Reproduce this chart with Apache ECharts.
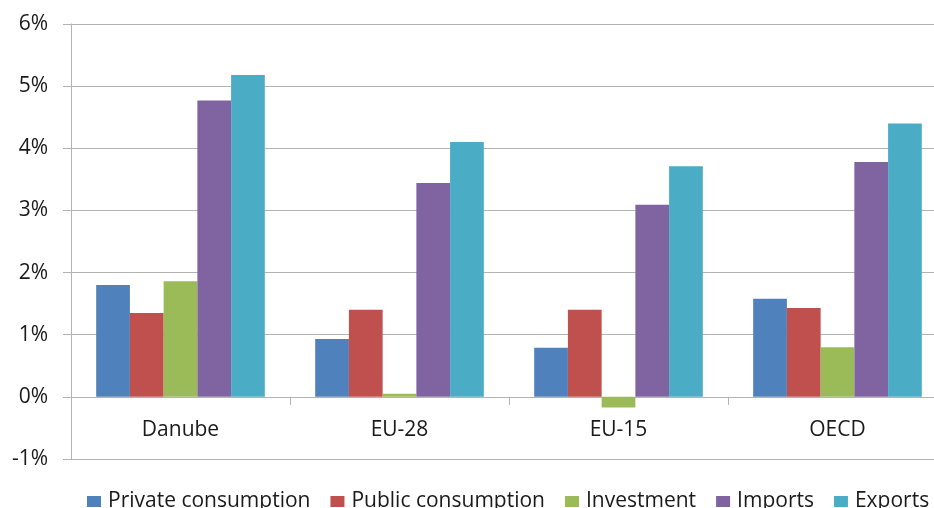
<!DOCTYPE html>
<html><head><meta charset="utf-8">
<script src="https://cdn.jsdelivr.net/npm/echarts@6/dist/echarts.min.js"></script>
<style>html,body{margin:0;padding:0;background:#fff;overflow:hidden}#c{width:947px;height:508px}</style>
</head><body><div id="c"></div>
<script>
const categories = ['Danube', 'EU-28', 'EU-15', 'OECD'];
const seriesNames = ['Private consumption', 'Public consumption', 'Investment', 'Imports', 'Exports'];
const privateConsumption = [1.80, 0.93, 0.79, 1.58];
const publicConsumption = [1.35, 1.40, 1.40, 1.43];
const investment = [1.86, 0.05, -0.17, 0.80];
const imports = [4.77, 3.44, 3.09, 3.78];
const exportsData = [5.18, 4.10, 3.71, 4.40];
const yTicks = [-1, 0, 1, 2, 3, 4, 5, 6];
const colors = ['#4F81BD', '#C0504D', '#9BBB59', '#8064A2', '#4BACC6'];
const values = [privateConsumption, publicConsumption, investment, imports, exportsData];

const chart = echarts.init(document.getElementById('c'));
const font = '"Open Sans", sans-serif';
const gridTop = 24, gridBottom = 49;
const unitPx = (508 - gridTop - gridBottom) / (yTicks[yTicks.length - 1] - yTicks[0]);
chart.setOption({
  animation: false,
  color: colors,
  grid: { left: 71, right: 0, top: gridTop, bottom: gridBottom, containLabel: false },
  legend: {
    top: 486, left: 82,
    itemWidth: 14, itemHeight: 11, itemGap: 20,
    icon: 'rect',
    textStyle: { fontFamily: font, fontSize: 21, color: '#1a1a1a', padding: [0, 0, 0, 2] },
    data: seriesNames
  },
  xAxis: [{
    type: 'category', data: categories,
    position: 'bottom',
    offset: -unitPx * (0 - yTicks[0]),
    axisLine: { onZero: false, lineStyle: { color: '#b3b3b3', width: 1 } },
    axisTick: { show: true, length: 8, lineStyle: { color: '#b3b3b3' } },
    axisLabel: { fontFamily: font, fontSize: 21, color: '#1a1a1a', margin: 23 }
  }],
  yAxis: {
    type: 'value', min: yTicks[0], max: yTicks[yTicks.length - 1], interval: 1,
    axisLine: { show: true, lineStyle: { color: '#b3b3b3' } },
    axisTick: { show: true, length: 8, lineStyle: { color: '#b3b3b3' } },
    splitLine: { show: true, lineStyle: { color: '#b3b3b3' } },
    axisLabel: { fontFamily: font, fontSize: 21, color: '#1a1a1a', margin: 23, formatter: v => v + '%' }
  },
  series: seriesNames.map((n, i) => ({
    name: n, type: 'bar', data: values[i],
    barGap: '0%', barCategoryGap: '23%'
  }))
});
</script></body></html>
